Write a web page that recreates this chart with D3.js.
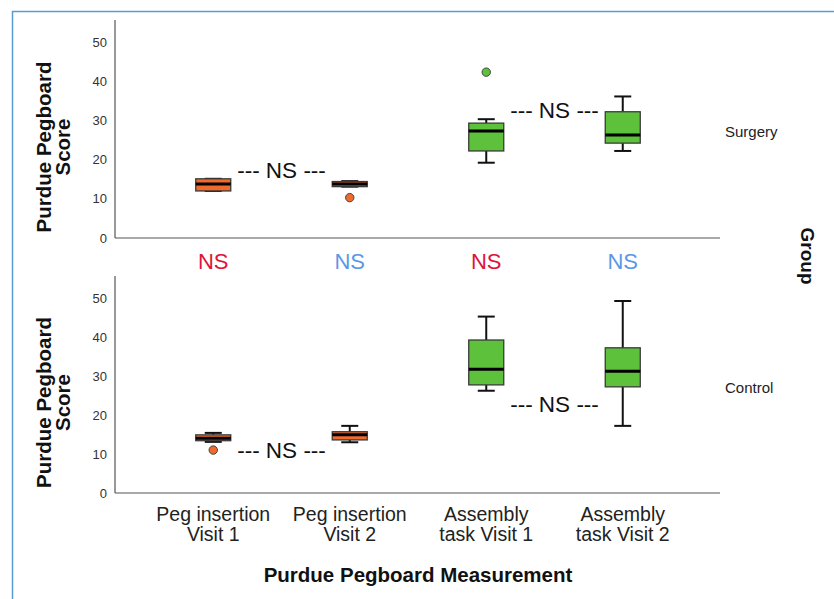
<!DOCTYPE html>
<html>
<head>
<meta charset="utf-8">
<script src="https://cdn.jsdelivr.net/npm/d3@7"></script>
<style>
  html, body { margin: 0; padding: 0; background: #fff; }
  svg { display: block; font-family: "Liberation Sans", Arial, sans-serif; }
</style>
</head>
<body>
<svg id="chart" width="834" height="599"></svg>
<script>
// Measurement categories (x axis) and their tick label lines
const categories = ["PegV1", "PegV2", "AsmV1", "AsmV2"];
const categoryLabels = [["Peg insertion", "Visit 1"], ["Peg insertion", "Visit 2"],
                        ["Assembly", "task Visit 1"], ["Assembly", "task Visit 2"]];
const categoryColors = ["#ef6a2b", "#ef6a2b", "#5dc13b", "#5dc13b"];

// Y ticks
const yTicks = [0, 10, 20, 30, 40, 50];

// Surgery group box statistics
const surgeryMin    = [12.0, 13.1, 19.2, 22.2];
const surgeryQ1     = [12.0, 13.1, 22.2, 24.2];
const surgeryMedian = [13.8, 13.8, 27.3, 26.3];
const surgeryQ3     = [15.1, 14.4, 29.3, 32.2];
const surgeryMax    = [15.1, 14.5, 30.3, 36.1];
const surgeryOutliers = [[], [10.3], [42.3], []];

// Control group box statistics
const controlMin    = [13.1, 13.0, 26.2, 17.2];
const controlQ1     = [13.4, 13.6, 27.7, 27.2];
const controlMedian = [14.0, 14.9, 31.7, 31.2];
const controlQ3     = [14.9, 15.7, 39.2, 37.2];
const controlMax    = [15.4, 17.2, 45.2, 49.2];
const controlOutliers = [[11.0], [], [], []];

// Within-group visit comparisons: [from, to, label height]
const surgeryComparisons = [["PegV1", "PegV2", 15.3], ["AsmV1", "AsmV2", 30.6]];
const controlComparisons = [["PegV1", "PegV2", 9.0], ["AsmV1", "AsmV2", 20.8]];

// Between-group comparisons per category
const groupComparisonLabels = ["NS", "NS", "NS", "NS"];
const visitColors = ["#e0133d", "#5a98e6", "#e0133d", "#5a98e6"];

const groups = [
  { name: "Surgery", min: surgeryMin, q1: surgeryQ1, med: surgeryMedian, q3: surgeryQ3, max: surgeryMax,
    out: surgeryOutliers, comps: surgeryComparisons, top: 20, bottom: 238, labelY: 137 },
  { name: "Control", min: controlMin, q1: controlQ1, med: controlMedian, q3: controlQ3, max: controlMax,
    out: controlOutliers, comps: controlComparisons, top: 276, bottom: 493, labelY: 393 }
];

const svg = d3.select("#chart");

// outer frame
svg.append("rect")
  .attr("x", 12.5).attr("y", 11.5).attr("width", 840).attr("height", 620)
  .attr("fill", "none").attr("stroke", "#5b9bd5").attr("stroke-width", 1.5);

const x = d3.scaleBand().domain(categories).range([145, 691]).padding(0);
const cx = d => x(d) + x.bandwidth() / 2;
const boxW = 35, capW = 17;
const axisColor = "#555";

groups.forEach(g => {
  const y = d3.scaleLinear().domain([0, 55.6]).range([g.bottom, g.top]);
  const p = svg.append("g");

  // axes lines
  p.append("line").attr("x1", 115).attr("x2", 115).attr("y1", g.top).attr("y2", g.bottom)
    .attr("stroke", axisColor).attr("stroke-width", 1.2);
  p.append("line").attr("x1", 115).attr("x2", 720).attr("y1", g.bottom).attr("y2", g.bottom)
    .attr("stroke", axisColor).attr("stroke-width", 1.2);

  // y tick labels
  const yAxis = d3.axisLeft(y).tickValues(yTicks).tickSize(0).tickPadding(8);
  const ax = p.append("g").attr("transform", "translate(115,0)").call(yAxis);
  ax.select(".domain").remove();
  ax.selectAll("text").attr("font-size", 13).attr("fill", "#333")
    .attr("font-family", "Liberation Sans, Arial, sans-serif");

  // y title
  const yt = p.append("text")
    .attr("transform", `translate(51,${(g.top + g.bottom) / 2 + 18}) rotate(-90)`)
    .attr("text-anchor", "middle").attr("font-weight", "bold").attr("font-size", 20.5).attr("fill", "#111");
  yt.append("tspan").attr("x", 0).attr("dy", 0).text("Purdue Pegboard");
  yt.append("tspan").attr("x", 0).attr("dy", 19).text("Score");

  // boxes
  categories.forEach((c, i) => {
    const xc = cx(c);
    const b = p.append("g");
    b.append("line").attr("x1", xc).attr("x2", xc).attr("y1", y(g.max[i])).attr("y2", y(g.q3[i]))
      .attr("stroke", "#111").attr("stroke-width", 2);
    b.append("line").attr("x1", xc).attr("x2", xc).attr("y1", y(g.q1[i])).attr("y2", y(g.min[i]))
      .attr("stroke", "#111").attr("stroke-width", 2);
    [g.max[i], g.min[i]].forEach(v => {
      b.append("line").attr("x1", xc - capW / 2).attr("x2", xc + capW / 2).attr("y1", y(v)).attr("y2", y(v))
        .attr("stroke", "#111").attr("stroke-width", 2);
    });
    b.append("rect").attr("x", xc - boxW / 2).attr("width", boxW)
      .attr("y", y(g.q3[i])).attr("height", Math.max(1, y(g.q1[i]) - y(g.q3[i])))
      .attr("fill", categoryColors[i]).attr("stroke", "#3a3a3a").attr("stroke-width", 1.3);
    b.append("line").attr("x1", xc - boxW / 2).attr("x2", xc + boxW / 2)
      .attr("y1", y(g.med[i])).attr("y2", y(g.med[i]))
      .attr("stroke", "#000").attr("stroke-width", 3);
    g.out[i].forEach(v => {
      b.append("circle").attr("cx", xc).attr("cy", y(v)).attr("r", 4.2)
        .attr("fill", categoryColors[i]).attr("stroke", "#444").attr("stroke-width", 1);
    });
  });

  // visit comparison labels
  g.comps.forEach(([a, bb, v]) => {
    p.append("text").attr("x", (cx(a) + cx(bb)) / 2).attr("y", y(v))
      .attr("text-anchor", "middle").attr("font-size", 22.5).attr("fill", "#111")
      .attr("xml:space", "preserve").text("--- NS ---");
  });

  // group label
  p.append("text").attr("x", 725).attr("y", g.labelY).attr("font-size", 15).attr("fill", "#222").text(g.name);
});

// between-group comparison labels
categories.forEach((c, i) => {
  svg.append("text").attr("x", cx(c)).attr("y", 269).attr("text-anchor", "middle")
    .attr("font-size", 22).attr("fill", visitColors[i]).text(groupComparisonLabels[i]);
});

// x tick labels
categories.forEach((c, i) => {
  const t = svg.append("text").attr("text-anchor", "middle").attr("font-size", 19.5).attr("fill", "#222");
  categoryLabels[i].forEach((line, j) => {
    t.append("tspan").attr("x", cx(c)).attr("y", 521 + j * 20).text(line);
  });
});

// x title
svg.append("text").attr("x", 418).attr("y", 582).attr("text-anchor", "middle")
  .attr("font-weight", "bold").attr("font-size", 20.5).attr("fill", "#111").text("Purdue Pegboard Measurement");

// facet title
svg.append("text").attr("transform", "translate(801,256) rotate(90)").attr("text-anchor", "middle")
  .attr("font-weight", "bold").attr("font-size", 19).attr("fill", "#111").text("Group");
</script>
</body>
</html>
